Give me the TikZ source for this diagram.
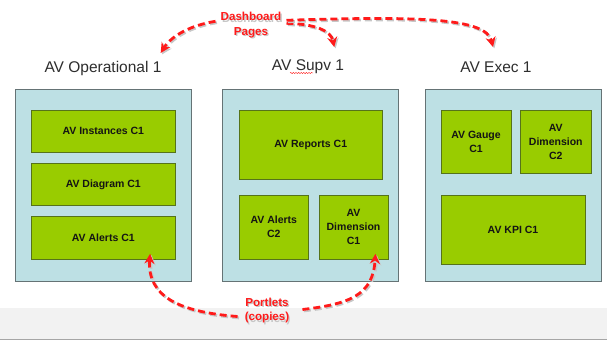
\documentclass[tikz,border=0pt]{standalone}
\usepackage{fontspec}
\setmainfont{Liberation Sans}
\usetikzlibrary{arrows.meta,decorations.pathmorphing,calc}
\definecolor{panelfill}{HTML}{BDE0E4}
\definecolor{paneledge}{HTML}{657375}
\definecolor{boxfill}{HTML}{99CC00}
\definecolor{boxedge}{HTML}{56731A}
\definecolor{callred}{HTML}{FF1A1A}
\definecolor{titlegray}{HTML}{2E2E2E}
\definecolor{bandgray}{HTML}{F2F2F2}
% dashed red connector with a soft grey shadow underneath
\newcommand\redlink[1]{\draw[linkshadow] #1; \draw[link] #1;}
\begin{document}
\begin{tikzpicture}[x=1pt,y=-1pt,
  panel/.style={draw=paneledge, fill=panelfill, line width=1pt, minimum width=176pt, minimum height=192pt, inner sep=0pt},
  portlet/.style={draw=boxedge, fill=boxfill, line width=0.9pt, inner sep=0pt,
    font=\fontsize{10.5}{14}\selectfont\bfseries, align=center, text=black!92},
  title/.style={font=\fontsize{15.5}{18}\selectfont, text=titlegray, inner sep=0pt},
  callout/.style={font=\fontsize{11.6}{14.8}\selectfont\bfseries, text=callred, align=center, inner sep=1pt},
  calloutshadow/.style={callout, text=black!22},
  link/.style={draw=callred, line width=2.8pt, dash pattern=on 7pt off 4pt, -{Stealth[length=10pt,width=10pt]}},
  linkshadow/.style={draw=black!22, line width=2.8pt, dash pattern=on 7pt off 4pt, -{Stealth[length=10pt,width=10pt]},
    transform canvas={shift={(1.4pt,-1.4pt)}}},
]
\useasboundingbox (0,0) rectangle (607,341);
\fill[white] (0,0) rectangle (607,341);

% footer band
\fill[bandgray] (0,308) rectangle (607,338.5);
\draw[black!35, line width=0.8pt] (0,339) -- (607,339);

% page titles
\node[title] (t1) at (103,68) {AV Operational 1};
\node[title] (t2) at (308,67) {AV Supv 1};
\node[title] (t3) at (496,67) {AV Exec 1};
\draw[callred, line width=0.4pt, decorate, decoration={snake, amplitude=0.6pt, segment length=2.6pt}]
  (290,73) -- (313,73);

% dashboard panels
\node[panel] (p1) at (103.7,185) {};
\node[panel] (p2) at (310.7,185) {};
\node[panel] (p3) at (513,185) {};

% portlets of AV Operational 1
\node[portlet, minimum width=144.7pt, minimum height=42.7pt] (inst1) at (103.3,131.3) {AV Instances C1};
\node[portlet, minimum width=144.7pt, minimum height=42.4pt] (diag1) at (103.3,184.5) {AV Diagram C1};
\node[portlet, minimum width=144.7pt, minimum height=42.6pt] (alerts1) at (103.3,238) {AV Alerts C1};

% portlets of AV Supv 1
\node[portlet, minimum width=143.7pt, minimum height=69.7pt] (rep1) at (310.8,144.8) {AV Reports C1};
\node[portlet, minimum width=69.7pt, minimum height=64.3pt] (alerts2) at (273.8,227.2) {AV Alerts\\C2};
\node[portlet, minimum width=69pt, minimum height=64.3pt] (dim1) at (353.5,227.2) {AV\\Dimension\\C1};

% portlets of AV Exec 1
\node[portlet, minimum width=70pt, minimum height=63.7pt] (gauge1) at (476,141.8) {AV Gauge\\C1};
\node[portlet, minimum width=70.3pt, minimum height=63.7pt] (dim2) at (555.8,141.8) {AV\\Dimension\\C2};
\node[portlet, minimum width=144pt, minimum height=69.3pt] (kpi1) at (513,229.7) {AV KPI C1};

% callout labels
\node[calloutshadow] (dashsh) at (252.3,26.6) {Dashboard\\Pages};
\node[callout] (dash) at (251,25.3) {Dashboard\\Pages};
\node[calloutshadow] (portsh) at (268.3,311.8) {Portlets\\(copies)};
\node[callout] (port) at (267,310.5) {Portlets\\(copies)};

% dashboard page links
\redlink{($(dash.west)+(-4,-4)$) .. controls (192,25) and (172,35) .. ($(t1.east)+(-1,-15)$)}
\redlink{($(dash.east)+(4,-2)$) .. controls (316,24) and (331,31) .. ($(t2.east)+(-10,-20)$)}
\redlink{($(dash.east)+(4,-5)$) .. controls (420,16) and (486,18) .. ($(t3.center)+(-3,-20)$)}

% portlet copy links
\redlink{($(port.west)+(-6,6)$) .. controls (180,312) and (147,297) .. ($(alerts1.south east)+(-26,-6)$)}
\redlink{($(port.east)+(12,-1)$) .. controls (350,304) and (373,295) .. ($(dim1.south east)+(-13,-6)$)}
\end{tikzpicture}
\end{document}
